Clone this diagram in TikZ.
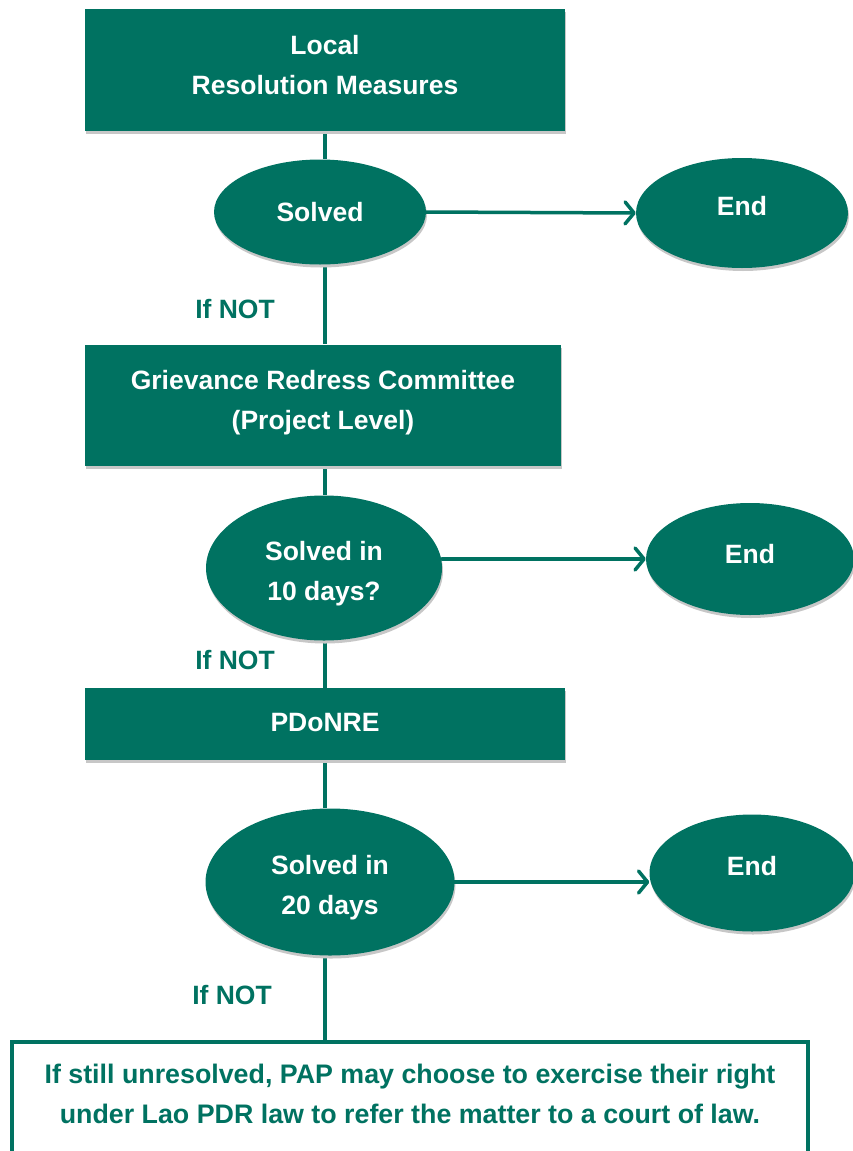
\documentclass[tikz,border=0pt]{standalone}
\usepackage{fontspec}
\setmainfont{Liberation Sans}
\usetikzlibrary{shapes.geometric,arrows.meta,shadows,backgrounds}
\definecolor{tealg}{RGB}{0,114,97}
\begin{document}
\begin{tikzpicture}[x=1pt,y=-1pt,
  txt/.style={font=\bfseries\fontsize{26.5}{40}\selectfont, align=center},
  bigtxt/.style={font=\bfseries\fontsize{26.8}{40}\selectfont, align=center},
  box/.style={rectangle, fill=tealg, inner sep=0pt,
    drop shadow={shadow xshift=1pt, shadow yshift=-3pt, fill=black!22, opacity=1}},
  oval/.style={ellipse, fill=tealg, inner sep=0pt,
    drop shadow={shadow xshift=1pt, shadow yshift=-3pt, fill=black!22, opacity=1}},
  ifnot/.style={txt, text=tealg},
  conn/.style={draw=tealg, line width=3.5pt},
  arr/.style={draw=tealg, line width=3.5pt, line cap=round,
    -{Straight Barb[length=9pt,width=22pt,line width=3.5pt,round]}},
  finalbox/.style={rectangle, draw=tealg, line width=4pt, fill=white}
]
\clip (0,0) rectangle (853,1151);

% level 1
\node[box, minimum width=480pt, minimum height=122pt,
  label={[txt, text=white, yshift=5pt]center:Local\\Resolution Measures}] (b1) at (325,70) {};
\node[oval, minimum width=212pt, minimum height=105pt,
  label={[txt, text=white]center:Solved}] (e1) at (320,212) {};
\node[oval, minimum width=212pt, minimum height=110pt,
  label={[txt, text=white, yshift=7pt]center:End}] (n1) at (742,213) {};
\node[ifnot] (l1) at (235,309) {If NOT};

% level 2
\node[box, minimum width=476pt, minimum height=121pt,
  label={[txt, text=white, yshift=2pt]center:Grievance Redress Committee\\(Project Level)}] (b2) at (323,405) {};
\node[oval, minimum width=236pt, minimum height=145pt,
  label={[txt, text=white, yshift=-6pt]center:Solved in\\10 days?}] (e2) at (324,568) {};
\node[oval, minimum width=208pt, minimum height=112pt,
  label={[txt, text=white, yshift=5pt]center:End}] (n2) at (750,559) {};
\node[ifnot] (l2) at (235,660) {If NOT};

% level 3
\node[box, minimum width=480pt, minimum height=72pt,
  label={[txt, text=white, yshift=1pt]center:PDoNRE}] (b3) at (325,724) {};
\node[oval, minimum width=249pt, minimum height=147pt,
  label={[txt, text=white, yshift=-6pt]center:Solved in\\20 days}] (e3) at (330,882) {};
\node[oval, minimum width=205pt, minimum height=117pt,
  label={[txt, text=white, yshift=7pt]center:End}] (n3) at (752,873) {};
\node[ifnot] (l3) at (232,995) {If NOT};

% final
\node[finalbox, minimum width=796pt, minimum height=130pt, anchor=north,
  label={[bigtxt, text=tealg, yshift=13pt]center:If still unresolved, PAP may choose to exercise their right\\under Lao PDR law to refer the matter to a court of law.}] (b4) at (410,1040) {};

\begin{scope}[on background layer]
\draw[conn] (b1.south) -- (e1.north -| b1.south);
\draw[conn] (e1.south -| b1.south) -- (b2.north -| b1.south);
\draw[conn] (b2.south -| b1.south) -- (e2.north -| b1.south);
\draw[conn] (e2.south -| b1.south) -- (b3.north -| b1.south);
\draw[conn] (b3.south -| b1.south) -- (e3.north -| b1.south);
\draw[conn] (e3.south -| b1.south) -- (b4.north -| b1.south);
\end{scope}

\draw[arr] (e1.east) -- (n1.west);
\draw[arr] (n2.west -| e2.east) -- (n2.west);
\draw[arr] (e3.east) -- (e3.east -| n3.west);
\end{tikzpicture}
\end{document}
